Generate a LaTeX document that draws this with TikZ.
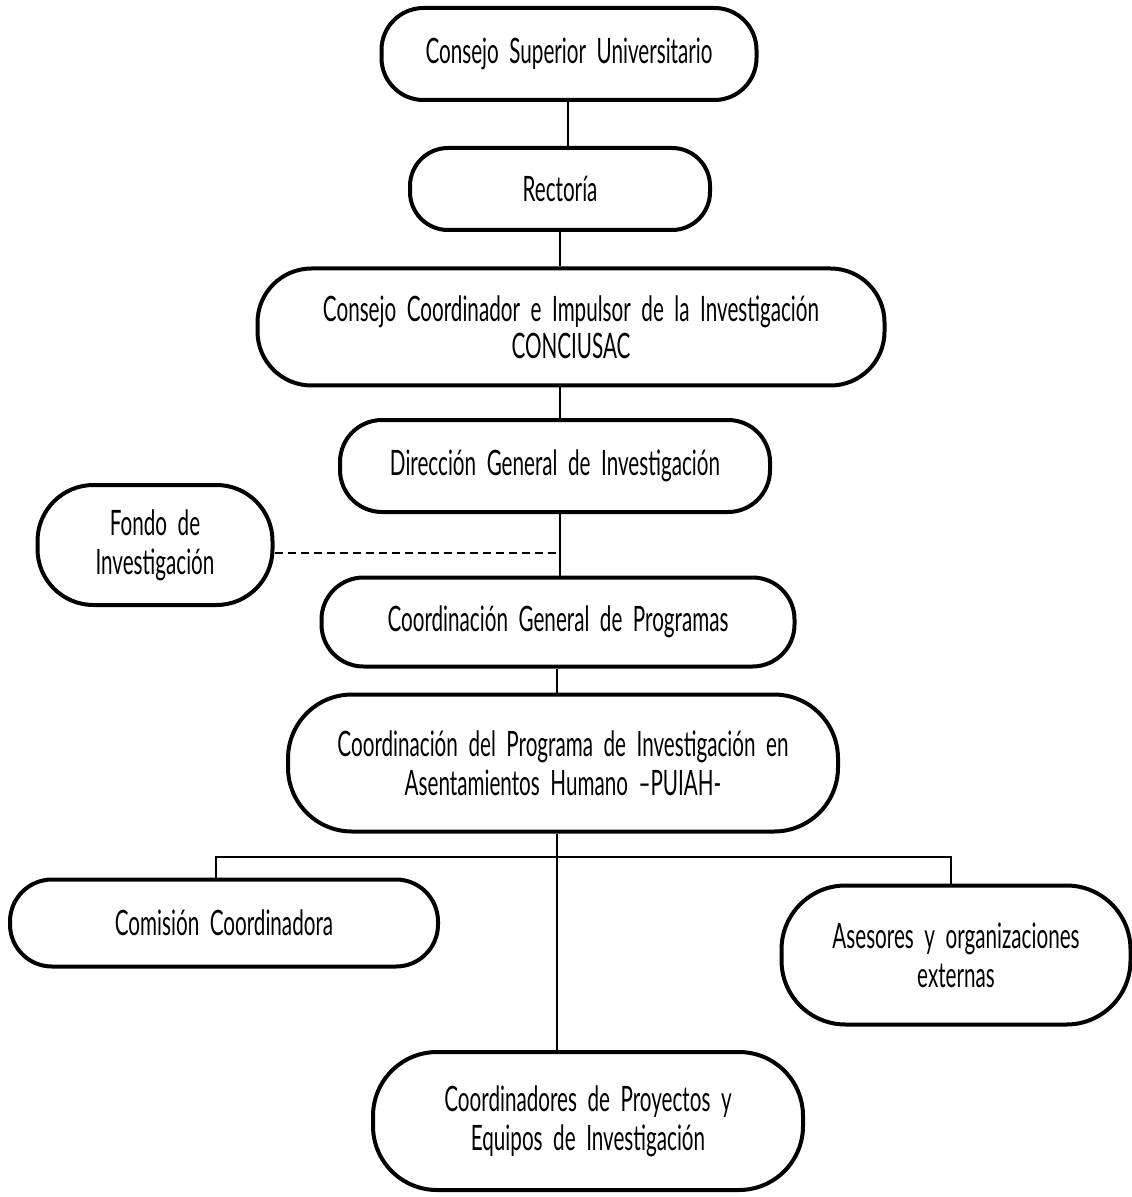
\documentclass[tikz,border=0pt]{standalone}
\usepackage{fontspec}
\setmainfont{Lato}[FakeStretch=0.59,WordSpace={2.0,1,1}]
\begin{document}
\begin{tikzpicture}[x=0.5pt,y=-0.5pt,
  org/.style={draw, line width=2pt, align=center, inner sep=0pt,
    font=\fontsize{17.5}{19.5}\selectfont},
  conn/.style={line width=0.8pt},
  dashconn/.style={line width=0.7pt, dash pattern=on 4pt off 2.5pt}]
\useasboundingbox (0,0) rectangle (1131,1197);
% boxes
\node[org, minimum width=187.5pt, minimum height=46pt, rounded corners=21pt] (csu) at (569,54) {Consejo Superior Universitario};
\node[org, minimum width=150pt, minimum height=41pt, rounded corners=19pt] (rec) at (560,189) {Rectoría};
\node[org, minimum width=313.5pt, minimum height=58.5pt, rounded corners=27pt] (cci) at (571,327) {Consejo Coordinador e Impulsor de la Investigación\\[-1pt]CONCIUSAC};
\node[org, minimum width=215pt, minimum height=46pt, rounded corners=21pt] (dgi) at (555,466) {Dirección General de Investigación};
\node[org, minimum width=117.5pt, minimum height=60pt, rounded corners=28pt] (fondo) at (155,545) {Fondo de\\Investigación};
\node[org, minimum width=236.5pt, minimum height=44.5pt, rounded corners=21pt] (cgp) at (558,622) {Coordinación General de Programas};
\node[org, minimum width=275pt, minimum height=68.5pt, rounded corners=32pt] (cpi) at (563,763) {Coordinación del Programa de Investigación en\\Asentamientos Humano --PUIAH-};
\node[org, minimum width=214pt, minimum height=43.5pt, rounded corners=21pt] (cc) at (224,923) {Comisión Coordinadora};
\node[org, minimum width=174.5pt, minimum height=69.5pt, rounded corners=32pt] (ase) at (956,955) {Asesores y organizaciones\\externas};
\node[org, minimum width=215pt, minimum height=69pt, rounded corners=32pt] (coo) at (588,1121) {Coordinadores de Proyectos y\\Equipos de Investigación};
% junctions
\coordinate (j1) at (560,553);
\coordinate (bar) at (557,857);
% connectors
\draw[conn] (csu.south -| 568,0) -- (rec.north -| 568,0);
\draw[conn] (rec.south -| 560,0) -- (cci.north -| 560,0);
\draw[conn] (cci.south -| 560,0) -- (dgi.north -| 560,0);
\draw[conn] (dgi.south -| 560,0) -- (cgp.north -| 560,0);
\draw[dashconn] (fondo.east |- j1) -- (j1);
\draw[conn] (cgp.south -| 557,0) -- (cpi.north -| 557,0);
\draw[conn] (cpi.south -| bar) -- (bar);
\draw[conn] (cc.north -| 216,0) |- (bar) -| (ase.north -| 951,0);
\draw[conn] (bar) -- (coo.north -| bar);
\end{tikzpicture}
\end{document}
